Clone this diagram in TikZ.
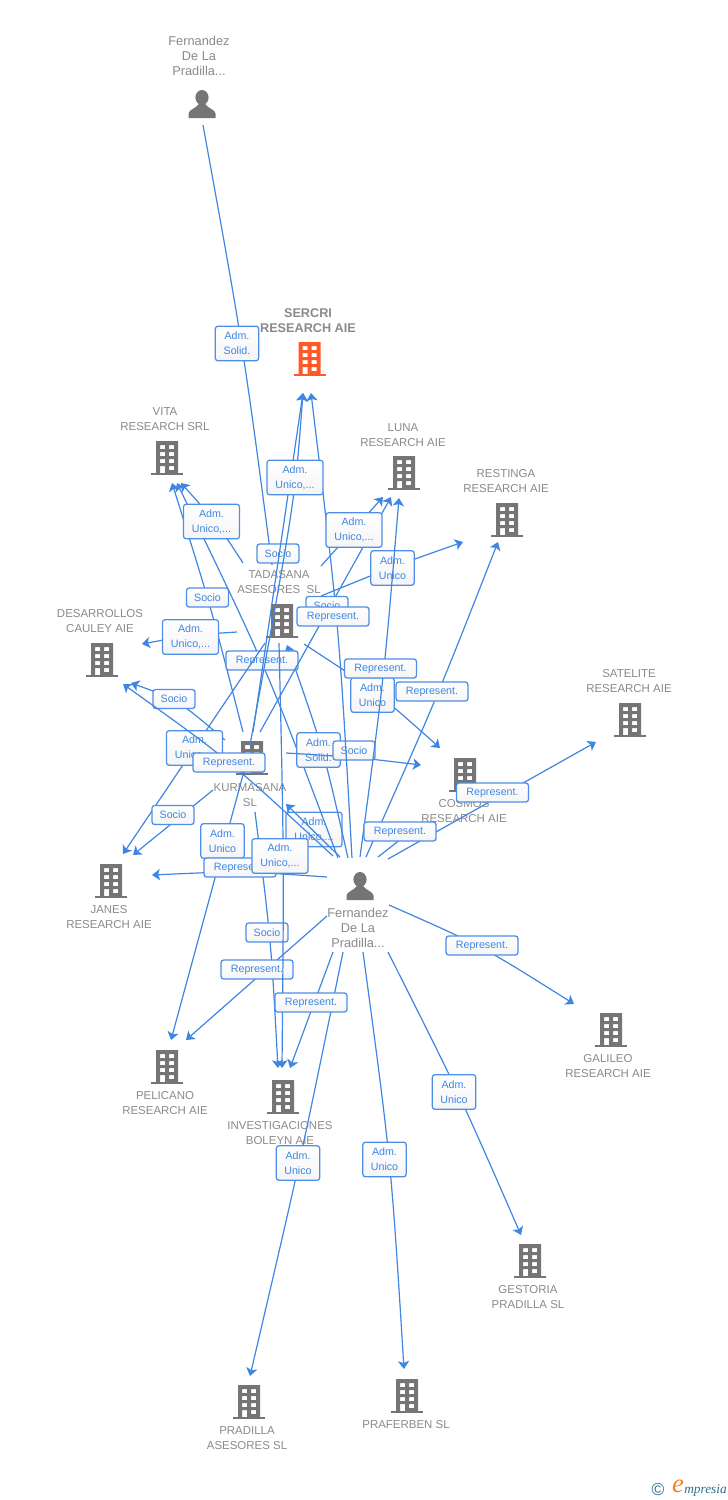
\documentclass[tikz,border=0pt]{standalone}
\usepackage{fontspec}
\setmainfont{Liberation Sans}
\newfontfamily\logoserif{Liberation Serif}
\usetikzlibrary{arrows.meta}
\definecolor{linkblue}{HTML}{3F86E2}
\definecolor{boxblue}{HTML}{4F8EE6}
\definecolor{txtgray}{HTML}{8A8A8A}
\definecolor{icongray}{HTML}{757575}
\definecolor{icontarget}{HTML}{FF5A26}
\definecolor{logoteal}{HTML}{2F6E8C}
\definecolor{logoorange}{HTML}{F58220}
\tikzset{
  x=0.75pt,y=-0.75pt,
  edge/.style={draw=linkblue,line width=0.9pt},
  arrowedge/.style={edge,-{Stealth[length=6pt,width=8.5pt,inset=1.5pt]}},
  tagbox/.style={draw=boxblue,line width=0.95pt,rounded corners=2pt,top color=white,bottom color=white!96!black,
     text=linkblue,align=center,inner sep=0pt,font=\fontsize{8}{11.25}\selectfont},
  repbox/.style={tagbox,minimum width=54pt,minimum height=14.25pt},
  sociobox/.style={tagbox,minimum width=31.5pt,minimum height=14.25pt},
  shortbox/.style={tagbox,minimum width=32.5pt,minimum height=26pt},
  longbox/.style={tagbox,minimum width=42pt,minimum height=26pt},
  caption/.style={text=txtgray,align=center,inner sep=0pt,font=\fontsize{8.6}{11.25}\selectfont},
  bigcaption/.style={text=txtgray,align=center,inner sep=0pt,font=\fontsize{9.6}{11.25}\selectfont},
  bldg/.style={inner sep=0pt,minimum width=25pt,minimum height=26pt,path picture={
     \fill[#1,even odd rule,shift={(path picture bounding box.center)}]
       (-11,-17) rectangle (11,15)
       (-7,-13) rectangle (-2,-9) (2,-13) rectangle (7,-9)
       (-7,-6) rectangle (-2,-2) (2,-6) rectangle (7,-2)
       (-7,1) rectangle (-2,5) (2,1) rectangle (7,5)
       (-7,8) rectangle (-2,15) (2,8) rectangle (7,12);
     \fill[#1,shift={(path picture bounding box.center)}] (-16,14.5) rectangle (16,17);
  }},
  bldg/.default=icongray,
  personicon/.style={inner sep=0pt,minimum width=22pt,minimum height=22pt,path picture={
     \fill[icongray,shift={(path picture bounding box.center)}]
       (0,-6.5) ellipse [x radius=6.6,y radius=7.5];
     \fill[icongray,shift={(path picture bounding box.center)}]
       (-13.5,14) -- (-13.5,9.5) .. controls (-13,5.5) and (-7,5) .. (-3,0) -- (3,0)
       .. controls (7,5) and (13,5.5) .. (13.5,9.5) -- (13.5,14) -- cycle;
  }},
}
\begin{document}
\begin{tikzpicture}
\useasboundingbox (0,0) rectangle (728,1500);

% icons
\node[personicon] (fTop) at (202,104) {};
\node[personicon] (fMain) at (360,886) {};
\node[bldg=icontarget] (sercri) at (309.5,359) {};
\node[bldg] (vita) at (167,458) {};
\node[bldg] (luna) at (404,473) {};
\node[bldg] (restinga) at (507,520) {};
\node[bldg] (tadasana) at (282,621) {};
\node[bldg] (desarrollos) at (102,660) {};
\node[bldg] (satelite) at (630,720) {};
\node[bldg] (kurmasana) at (252,758) {};
\node[bldg] (cosmos) at (465,775) {};
\node[bldg] (janes) at (111,881) {};
\node[bldg] (pelicano) at (167,1067) {};
\node[bldg] (boleyn) at (283,1097) {};
\node[bldg] (galileo) at (611,1030) {};
\node[bldg] (gestoria) at (530,1261) {};
\node[bldg] (pradilla) at (249,1402) {};
\node[bldg] (praferben) at (407,1396) {};

% captions
\node[bigcaption] (tTop) at (199,56) {Fernandez\\De La\\Pradilla...};
\node[bigcaption] (tMain) at (358,928) {Fernandez\\De La\\Pradilla...};
\node[caption,font=\bfseries\fontsize{9.5}{11.25}\selectfont] (tSercri) at (308,320.5) {SERCRI\\RESEARCH AIE};
\node[caption] (tVita) at (165,419) {VITA\\RESEARCH SRL};
\node[caption] (tLuna) at (403,435) {LUNA\\RESEARCH AIE};
\node[caption] (tRestinga) at (506,481.5) {RESTINGA\\RESEARCH AIE};
\node[caption] (tTadasana) at (279,582.5) {TADASANA\\ASESORES\ \ SL};
\node[caption] (tDesarrollos) at (100,621.5) {DESARROLLOS\\CAULEY AIE};
\node[caption] (tSatelite) at (629,681.5) {SATELITE\\RESEARCH AIE};
\node[caption] (tKurmasana) at (250,795.5) {KURMASANA\\SL};
\node[caption] (tCosmos) at (464,811.5) {COSMOS\\RESEARCH AIE};
\node[caption] (tJanes) at (109,917.5) {JANES\\RESEARCH AIE};
\node[caption] (tPelicano) at (165,1103.5) {PELICANO\\RESEARCH AIE};
\node[caption] (tBoleyn) at (280,1133.5) {INVESTIGACIONES\\BOLEYN AIE};
\node[caption] (tGalileo) at (608,1066.5) {GALILEO\\RESEARCH AIE};
\node[caption] (tGestoria) at (528,1297.5) {GESTORIA\\PRADILLA SL};
\node[caption] (tPradilla) at (247,1438.5) {PRADILLA\\ASESORES SL};
\node[caption] (tPraferben) at (406,1425) {PRAFERBEN SL};

% connector end points
\coordinate (a1) at (203,125); \coordinate (b1) at (272,565);
\coordinate (a2) at (243,563); \coordinate (b2) at (181,483);
\coordinate (a3) at (338,858); \coordinate (b3) at (177,483);
\coordinate (a4) at (243,732); \coordinate (b4) at (172,483);
\coordinate (a5) at (348,858); \coordinate (b5) at (287,645);
\coordinate (a6) at (250,745); \coordinate (a7) at (253,732); \coordinate (b6) at (303,393);
\coordinate (a8) at (352,858); \coordinate (b8) at (311,393);
\coordinate (a9) at (237,632); \coordinate (b9) at (142,644);
\coordinate (a10) at (265,643); \coordinate (b10) at (123,854);
\coordinate (a11) at (225,740); \coordinate (b11) at (131,683);
\coordinate (a12) at (213,790); \coordinate (b12) at (133,855);
\coordinate (a13) at (333,856); \coordinate (b13) at (123,684);
\coordinate (a14) at (321,596); \coordinate (b14) at (463,542);
\coordinate (a15) at (321,566); \coordinate (b15) at (383,497);
\coordinate (a16) at (260,732); \coordinate (b16) at (391,497);
\coordinate (a17) at (360,857); \coordinate (b17) at (399,498);
\coordinate (a18) at (304,644); \coordinate (b18) at (440,748);
\coordinate (a19) at (286,753); \coordinate (b19) at (421,765);
\coordinate (a20) at (366,857); \coordinate (b20) at (498,542);
\coordinate (a21) at (388,859); \coordinate (b21) at (596,742);
\coordinate (a22) at (378,857); \coordinate (b22) at (415,828);
\coordinate (a23) at (340,857); \coordinate (b23) at (286,804);
\coordinate (a24) at (327,877); \coordinate (b24) at (152,875);
\coordinate (a25) at (243,775); \coordinate (b25) at (171,1040);
\coordinate (a26) at (255,812); \coordinate (b26) at (278,1068);
\coordinate (a27) at (327,916); \coordinate (b27) at (186,1040);
\coordinate (a28) at (279,643); \coordinate (b28) at (282,1068);
\coordinate (a29) at (333,952); \coordinate (b29) at (290,1068);
\coordinate (a30) at (343,952); \coordinate (b30) at (250,1376);
\coordinate (a31) at (363,952); \coordinate (b31) at (404,1369);
\coordinate (a32) at (388,952); \coordinate (b32) at (521,1235);
\coordinate (a33) at (389,905); \coordinate (b33) at (574,1004);

% the box all lines cross
\node[longbox] (lA) at (314,829.5) {Adm.\\Unico,...};

\draw[edge] (a1) .. controls (243,345) .. (b1);
\node[shortbox] (lB) at (237,343.5) {Adm.\\Solid.};
\node[sociobox] (lC) at (278,553.5) {Socio};

\draw[arrowedge] (a2) .. controls (217,523) .. (b2);
\draw[arrowedge] (a3) .. controls (267.5,670) .. (b3);
\draw[arrowedge] (a4) .. controls (211,607) .. (b4);
\draw[arrowedge] (a5) .. controls (323.5,749.5) .. (b5);
\node[longbox] (lD) at (211.5,521.5) {Adm.\\Unico,...};
\node[sociobox] (lE) at (207.5,597.5) {Socio};
\node[repbox] (lF) at (262,660.5) {Represent.};
\node[shortbox] (lG) at (318.5,750) {Adm.\\Solid.};
\draw[arrowedge] (a19) .. controls (354,757) .. (b19);
\node[sociobox] (lH) at (354,750.5) {Socio};

\draw[arrowedge] (a6) .. controls (295,500) .. (b6);
\draw[arrowedge] (a7) -- (b6);
\draw[arrowedge] (a8) .. controls (339,625) .. (b8);
\node[longbox] (lI) at (295,477.5) {Adm.\\Unico,...};

\draw[arrowedge] (a9) .. controls (190,635) .. (b9);
\node[longbox] (lJ) at (190.5,637) {Adm.\\Unico,...};

\draw[arrowedge] (a10) -- (b10);
\draw[arrowedge] (a11) .. controls (178,700) .. (b11);
\node[sociobox] (lK) at (174,699) {Socio};
\draw[arrowedge] (a12) -- (b12);
\node[sociobox] (lL) at (173,815) {Socio};
\node[longbox] (lM) at (194.5,748) {Adm.\\Unico,...};
\draw[arrowedge] (a13) .. controls (228,759) .. (b13);
\node[repbox] (lN) at (229,762.5) {Represent.};

\draw[arrowedge] (a14) .. controls (392,567) .. (b14);
\node[shortbox] (lO) at (392.5,568) {Adm.\\Unico};
\draw[arrowedge] (a15) -- (b15);
\draw[arrowedge] (a16) -- (b16);
\node[longbox] (lP) at (354,530) {Adm.\\Unico,...};
\node[sociobox] (lQ) at (327,606) {Socio};
\node[repbox] (lR) at (333,616.5) {Represent.};

\draw[arrowedge] (a18) .. controls (376,691) .. (b18);
\node[shortbox] (lS) at (372.5,695) {Adm.\\Unico};
\draw[arrowedge] (a17) .. controls (384,678) .. (b17);
\node[repbox] (lT) at (380.5,668.5) {Represent.};

\draw[arrowedge] (a20) .. controls (436,700) .. (b20);
\node[repbox] (lU) at (432,691.5) {Represent.};
\draw[arrowedge] (a21) -- (b21);
\node[repbox] (lV) at (492.5,792.5) {Represent.};
\draw[edge] (a22) -- (b22);
\node[repbox] (lW) at (400,831.5) {Represent.};

\draw[arrowedge] (a23) -- (b23);
\draw[arrowedge] (a24) .. controls (240,871) .. (b24);
\draw[arrowedge] (a25) -- (b25);
\node[shortbox] (lX) at (222.5,841) {Adm.\\Unico};
\draw[arrowedge] (a26) .. controls (271,940) .. (b26);
\node[repbox] (lY) at (240,867.5) {Represent.};
\node[sociobox] (lZ) at (267,932.5) {Socio};
\draw[arrowedge] (a27) -- (b27);
\node[repbox] (lAa) at (257,969.5) {Represent.};
\draw[arrowedge] (a28) .. controls (284,855) .. (b28);
\node[longbox] (lAb) at (280,856) {Adm.\\Unico,...};

\draw[arrowedge] (a29) -- (b29);
\draw[arrowedge] (a30) .. controls (301,1158) .. (b30);
\node[repbox] (lAc) at (311,1002.5) {Represent.};
\node[shortbox] (lAd) at (298,1163) {Adm.\\Unico};
\draw[arrowedge] (a31) .. controls (391,1160) .. (b31);
\node[shortbox] (lAe) at (384.5,1159.5) {Adm.\\Unico};
\draw[arrowedge] (a32) .. controls (459,1093) .. (b32);
\node[shortbox] (lAf) at (454,1092) {Adm.\\Unico};
\draw[arrowedge] (a33) .. controls (482,946) .. (b33);
\node[repbox] (lAg) at (482,945.5) {Represent.};

% logo
\node[text=logoteal,inner sep=0pt,font=\fontsize{13}{14}\selectfont] (logoC) at (658,1489) {©};
\node[text=logoorange,inner sep=0pt,font=\logoserif\itshape\fontsize{20}{20}\selectfont] (logoE) at (678,1486) {e};
\node[text=logoteal,inner sep=0pt,anchor=west,font=\logoserif\itshape\fontsize{10}{11}\selectfont] (logoT) at (684,1490) {mpresia};
\end{tikzpicture}
\end{document}
